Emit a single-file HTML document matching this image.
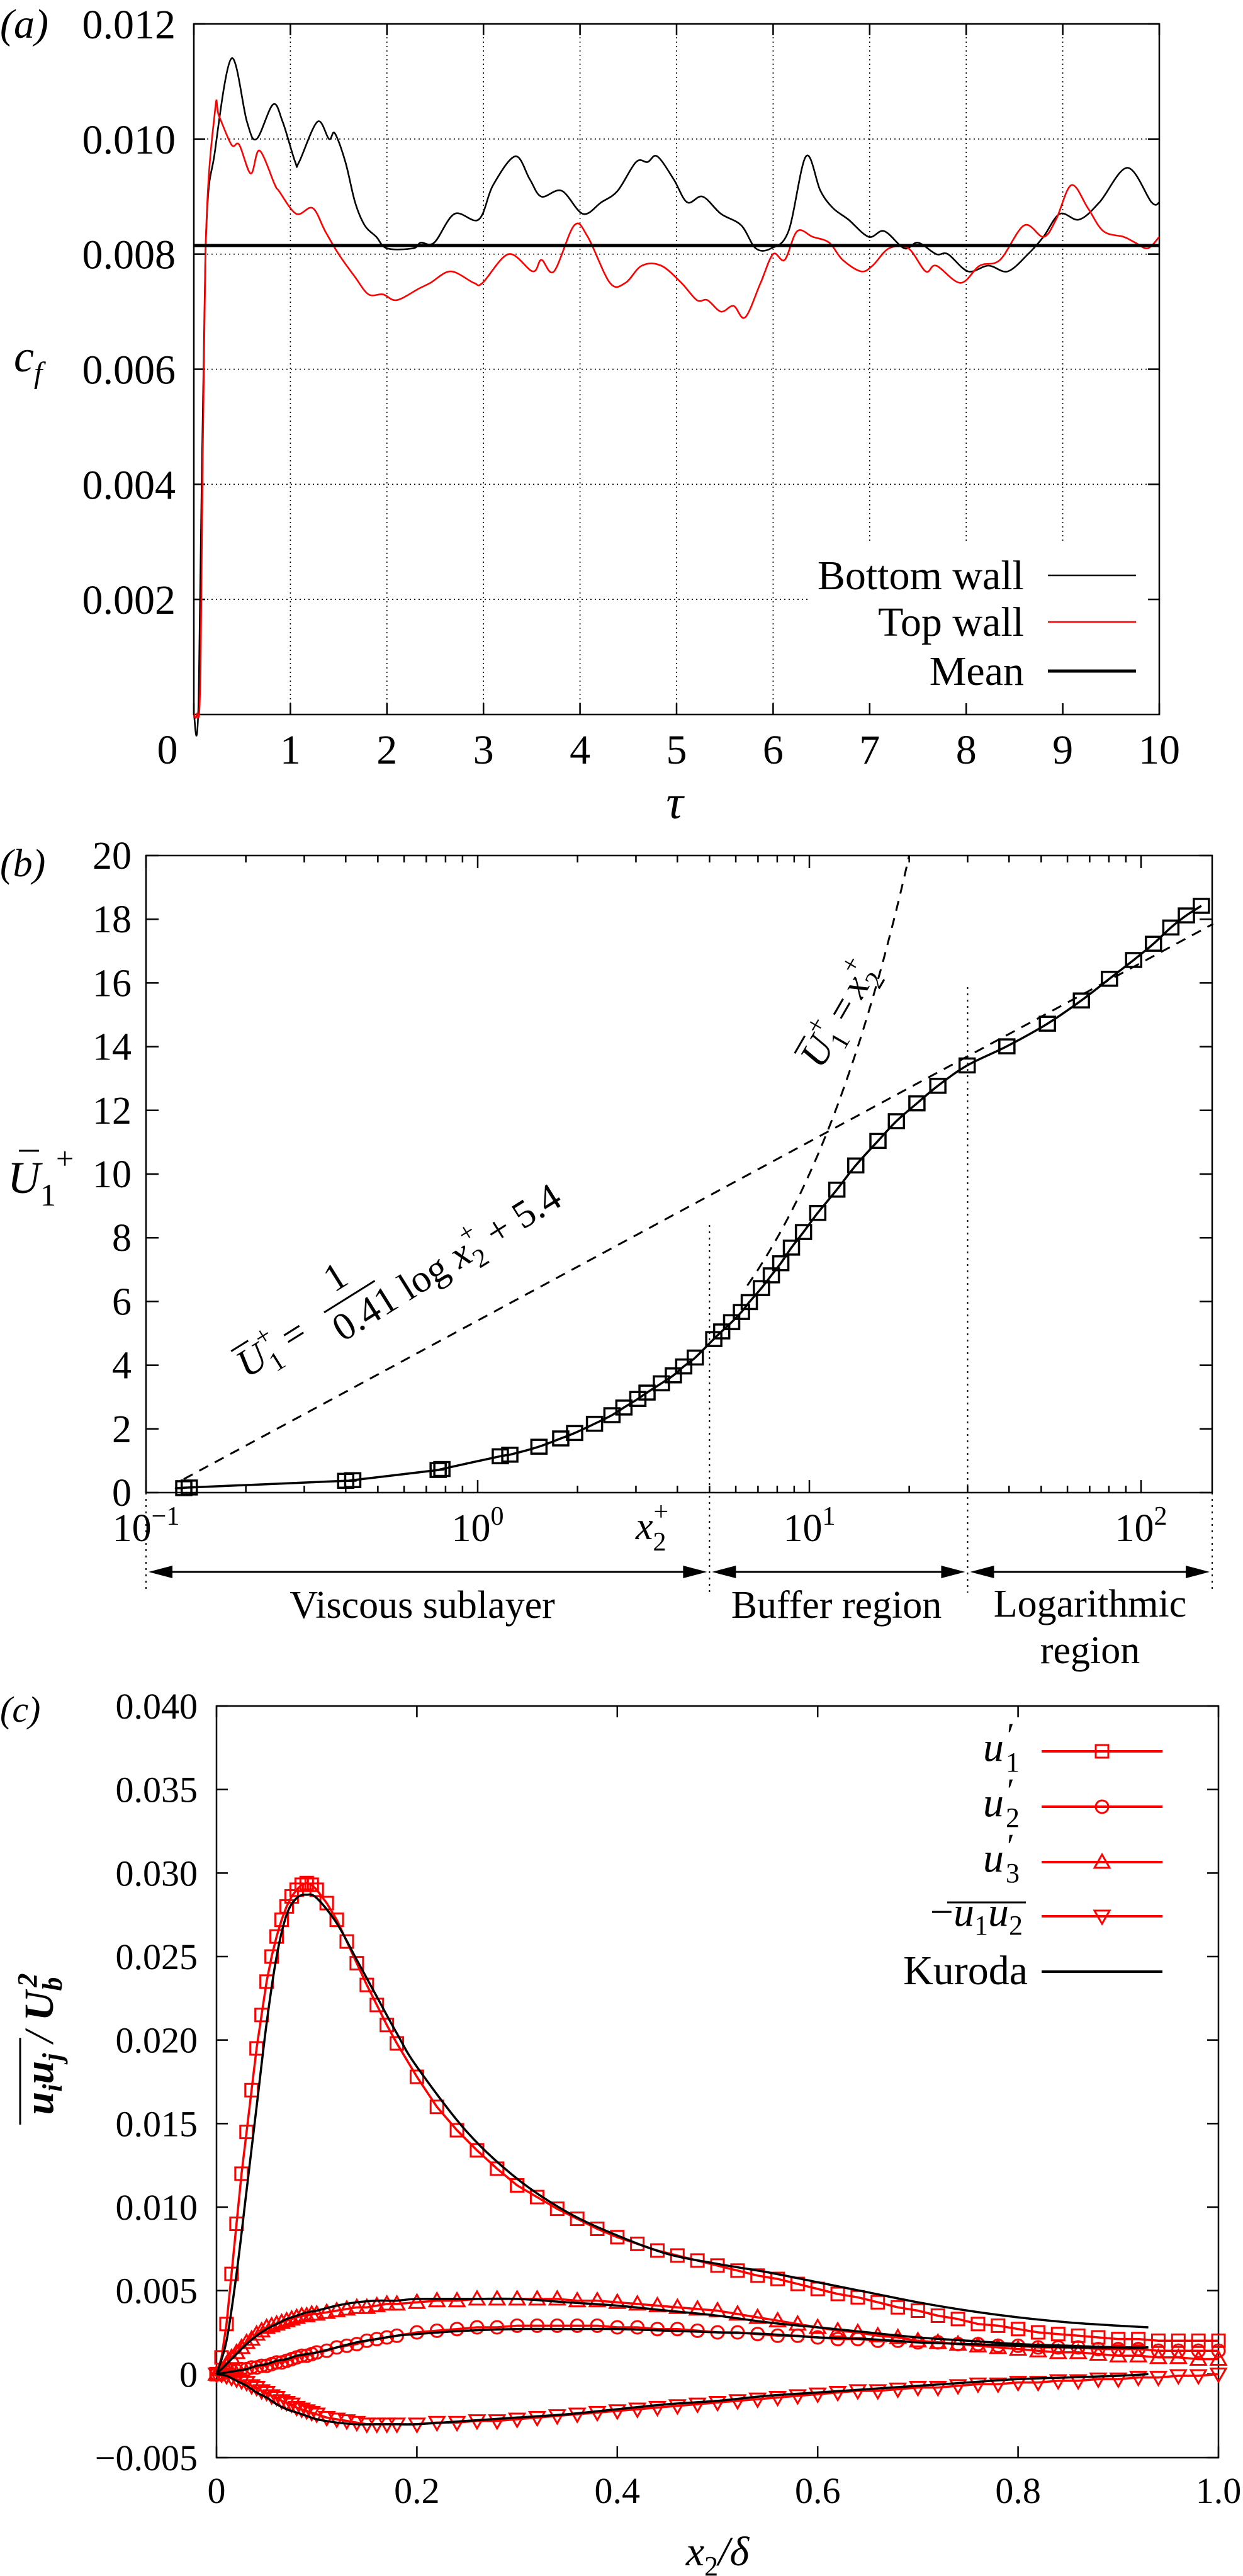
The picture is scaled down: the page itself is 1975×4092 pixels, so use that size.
<!DOCTYPE html>
<html><head><meta charset="utf-8"><style>
html,body{margin:0;padding:0;background:#fff;}
svg{display:block;}
svg text{font-family:"Liberation Serif","Times New Roman","DejaVu Serif",serif;}
</style></head><body>
<svg id="fig" xmlns="http://www.w3.org/2000/svg" width="1975" height="4092" viewBox="0 0 1975 4092" font-family="Liberation Serif, serif"></svg>
<script>
// ---------- Panel (a) data ----------
const aTauBottom=[0,0.05,0.12,0.22,0.39,0.55,0.65,0.82,0.92,1.05,1.09,1.28,1.4,1.46,1.57,1.67,1.77,1.89,2.0,2.27,2.35,2.49,2.7,2.95,3.1,3.33,3.48,3.6,3.81,4.03,4.22,4.39,4.58,4.7,4.8,4.97,5.11,5.27,5.46,5.67,5.82,5.98,6.16,6.34,6.49,6.62,6.78,6.99,7.15,7.36,7.5,7.69,7.81,8.02,8.23,8.43,8.64,8.8,8.97,9.17,9.38,9.67,9.92,10];
const aCfBottom=[0,0.0003,0.008,0.0098,0.0114,0.0103,0.0100,0.0106,0.0103,0.0096,0.0096,0.0103,0.0100,0.0101,0.0096,0.0089,0.0085,0.0083,0.0081,0.0081,0.0082,0.0082,0.0087,0.0086,0.0092,0.0097,0.0093,0.0090,0.0091,0.0087,0.0089,0.0091,0.0096,0.0096,0.0097,0.0093,0.0089,0.0090,0.0087,0.0085,0.0081,0.0081,0.0084,0.0097,0.0091,0.0088,0.0086,0.0083,0.0084,0.0081,0.0082,0.0080,0.0080,0.0077,0.0078,0.0077,0.0080,0.0083,0.0087,0.0086,0.0089,0.0095,0.0089,0.0089];
const aTauTop=[0,0.03,0.07,0.12,0.22,0.26,0.39,0.47,0.59,0.68,0.84,0.88,1.06,1.23,1.36,1.5,1.67,1.81,1.96,2.1,2.33,2.45,2.66,2.9,2.99,3.26,3.51,3.6,3.73,3.94,4.08,4.31,4.47,4.64,4.84,5.05,5.21,5.32,5.46,5.59,5.71,5.87,6.0,6.12,6.25,6.41,6.58,6.72,6.91,7.03,7.2,7.4,7.58,7.69,7.94,8.14,8.35,8.6,8.8,8.93,9.09,9.26,9.42,9.63,9.75,9.88,10];
const aCfTop=[0,0,0.0008,0.008,0.0105,0.0104,0.0099,0.0099,0.0094,0.0098,0.0092,0.0091,0.0087,0.0088,0.0084,0.0080,0.0076,0.0073,0.0073,0.0072,0.0074,0.0075,0.0077,0.0075,0.0075,0.0080,0.0077,0.0079,0.0077,0.0085,0.0083,0.0075,0.0075,0.0078,0.0078,0.0075,0.0072,0.0072,0.0070,0.0071,0.0069,0.0075,0.0080,0.0079,0.0084,0.0083,0.0082,0.0079,0.0077,0.0078,0.0081,0.0081,0.0077,0.0078,0.0075,0.0078,0.0079,0.0085,0.0083,0.0086,0.0092,0.0088,0.0084,0.0083,0.0082,0.0081,0.0083];
const aMean=[0.00815];
const aXTicks=[0,1,2,3,4,5,6,7,8,9,10];
const aYTicks=[0.002,0.004,0.006,0.008,0.010,0.012];
const aYLabels=["0.002","0.004","0.006","0.008","0.010","0.012"];

// ---------- Panel (b) data ----------
const bXplus=[0.13,0.135,0.40,0.42,0.76,0.78,1.17,1.25,1.53,1.78,1.96,2.25,2.54,2.76,3.04,3.24,3.58,3.89,4.18,4.53,5.15,5.44,5.83,6.24,6.59,7.17,7.68,8.2,8.83,9.6,10.6,12.1,13.8,16.1,18.3,21.1,24.4,29.9,39.4,52.2,66.1,80.3,95,109,123,137,152];
const bUplus=[0.14,0.16,0.37,0.39,0.71,0.74,1.14,1.19,1.44,1.70,1.87,2.16,2.43,2.67,2.94,3.14,3.43,3.68,3.96,4.24,4.82,5.06,5.35,5.67,5.98,6.42,6.82,7.20,7.69,8.18,8.78,9.51,10.27,11.04,11.66,12.22,12.77,13.41,14.01,14.72,15.45,16.13,16.72,17.23,17.74,18.12,18.42];
const bYTicks=[0,2,4,6,8,10,12,14,16,18,20];
const bXDecades=[-1,0,1,2];
const bKappa=[0.41];
const bB=[5.4];

// ---------- Panel (c) data ----------
const cX=[0,.005,.01,.015,.02,.025,.03,.035,.04,.045,
.05,.055,.06,.065,.07,.075,.08,.085,.09,.095,
.1,.11,.12,.13,.14,.15,.16,.17,.18,.2,
.22,.24,.26,.28,.3,.32,.34,.36,.38,.4,
.42,.44,.46,.48,.5,.52,.54,.56,.58,.6,
.62,.64,.66,.68,.7,.72,.74,.76,.78,.8,
.82,.84,.86,.88,.9,.92,.94,.96,.98,1];
const cU1=[0,.001,.003,.006,.009,.012,.0145,.017,.0195,.0215,
.0235,.025,.0262,.0272,.028,.0286,.029,.0293,.0294,.0293,
.029,.0282,.0272,.0259,.0246,.0233,.0221,.0209,.0198,.0178,
.016,.0146,.0134,.0123,.0113,.0106,.0099,.0093,.0087,.0082,
.0078,.0074,.0071,.0068,.0065,.0062,.0059,.0057,.0054,.0051,
.0048,.0046,.0043,.0040,.0038,.0035,.0033,.0030,.0029,.0027,
.0025,.0024,.0023,.0022,.0021,.0021,.0020,.0020,.0020,.0020];
const cU2=[0,.0001,.0001,.0002,.0002,.0003,.0003,.0004,.0004,.0005,
.0005,.0006,.0007,.0007,.0008,.0009,.0010,.0011,.0011,.0012,
.0013,.0014,.0016,.0017,.0018,.0020,.0021,.0022,.0023,.0025,
.0026,.0027,.0028,.0028,.0029,.0029,.0029,.0029,.0029,.0028,
.0028,.0027,.0027,.0026,.0025,.0025,.0024,.0023,.0023,.0022,
.0021,.0021,.0020,.0020,.0019,.0019,.0018,.0018,.0017,.0017,
.0016,.0016,.0016,.0015,.0015,.0015,.0014,.0014,.0014,.0014];
const cU3=[0,.0003,.0006,.001,.0013,.0016,.0019,.0021,.0024,.0026,
.0028,.0029,.003,.0031,.0032,.0033,.0034,.0035,.0035,.0036,
.0036,.0037,.0038,.0039,.0040,.0040,.0041,.0042,.0042,.0043,
.0044,.0044,.0045,.0045,.0045,.0045,.0045,.0044,.0044,.0043,
.0042,.0041,.0040,.0039,.0038,.0036,.0034,.0032,.0030,.0028,
.0026,.0025,.0023,.0022,.0020,.0019,.0018,.0017,.0016,.0015,
.0014,.0013,.0013,.0012,.0011,.0011,.0010,.0010,.0009,.0009];
const cUV=[0,0,-.0001,-.0002,-.0003,-.0004,-.0005,-.0007,-.0008,-.0010,
-.0011,-.0013,-.0014,-.0016,-.0017,-.0018,-.0020,-.0021,-.0022,-.0023,
-.0024,-.0026,-.0027,-.0028,-.0029,-.0030,-.0030,-.0030,-.0030,-.0030,
-.0029,-.0029,-.0028,-.0028,-.0027,-.0026,-.0025,-.0024,-.0023,-.0022,
-.0021,-.0020,-.0019,-.0018,-.0017,-.0016,-.0015,-.0014,-.0013,-.0012,
-.0011,-.0010,-.0010,-.0009,-.0008,-.0008,-.0007,-.0006,-.0006,-.0005,
-.0005,-.0004,-.0004,-.0003,-.0003,-.0002,-.0002,-.0001,-.0001,0];
const kX=[0,.01,.02,.03,.04,.05,.06,.07,.08,.09,.1,.12,.14,.16,.18,.2,.25,.3,.35,.4,.45,.5,.55,.6,.65,.7,.75,.8,.85,.9,.93];
const kU1=[0,.002,.006,.011,.016,.021,.025,.0275,.0285,.0287,.0285,.027,.0248,.0226,.0204,.0184,.0145,.0117,.0097,.0083,.0072,.0066,.0061,.0055,.0049,.0043,.0038,.0034,.0031,.0029,.0028];
const kU2=[0,.0001,.0002,.0003,.0005,.0006,.0008,.0009,.0011,.0012,.0013,.0016,.0019,.0021,.0023,.0024,.0026,.0027,.0027,.0027,.0026,.0025,.0024,.0022,.0021,.0019,.0018,.0017,.0016,.0016,.0016];
const kU3=[0,.0006,.0012,.0018,.0023,.0027,.003,.0033,.0035,.0037,.0038,.0041,.0043,.0044,.0044,.0045,.0045,.0045,.0043,.0041,.0038,.0035,.0031,.0028,.0025,.0022,.002,.0018,.0017,.0016,.0016];
const kUV=[0,-.0001,-.0004,-.0007,-.0011,-.0014,-.0018,-.0021,-.0023,-.0025,-.0027,-.0029,-.003,-.003,-.003,-.003,-.0028,-.0026,-.0024,-.0021,-.0018,-.0016,-.0013,-.0011,-.0009,-.0007,-.0005,-.0003,-.0002,-.0001,0];
const cYTicks=[-0.005,0,0.005,0.010,0.015,0.020,0.025,0.030,0.035,0.040];
const cYLabels=["\u22120.005","0","0.005","0.010","0.015","0.020","0.025","0.030","0.035","0.040"];
const cXTicks=[0,0.2,0.4,0.6,0.8,1.0];
const cXLabels=["0","0.2","0.4","0.6","0.8","1.0"];

const NS="http://www.w3.org/2000/svg";
const FONT='"Liberation Serif", "Times New Roman", serif';
const svg=document.getElementById('fig');
function el(tag,attrs,parent){const e=document.createElementNS(NS,tag);for(const k in attrs)e.setAttribute(k,attrs[k]);if(tag==='text')e.setAttribute('font-family',FONT);(parent||svg).appendChild(e);return e;}
function txt(s,x,y,size,anchor,parent,italic){const t=el('text',{x:x,y:y,'font-size':size,'text-anchor':anchor||'start'},parent);if(italic)t.setAttribute('font-style','italic');t.textContent=s;return t;}
function smoothPath(pts){
  let d='M'+pts[0][0].toFixed(1)+','+pts[0][1].toFixed(1);
  for(let i=0;i<pts.length-1;i++){
    const p0=pts[Math.max(0,i-1)],p1=pts[i],p2=pts[i+1],p3=pts[Math.min(pts.length-1,i+2)];
    const c1=[p1[0]+(p2[0]-p0[0])/6,p1[1]+(p2[1]-p0[1])/6],c2=[p2[0]-(p3[0]-p1[0])/6,p2[1]-(p3[1]-p1[1])/6];
    d+=' C'+c1[0].toFixed(1)+','+c1[1].toFixed(1)+' '+c2[0].toFixed(1)+','+c2[1].toFixed(1)+' '+p2[0].toFixed(1)+','+p2[1].toFixed(1);
  }
  return d;
}

// ================= Panel (a) =================
(function(){
  const L=308,R=1842,T=38,B=1135;
  const X=v=>L+(R-L)*v/10, Y=v=>B-(B-T)*v/0.012;
  const g=el('g',{});  
  const grid=el('g',{stroke:'#000','stroke-width':1.6,'stroke-dasharray':'2,5'},g);
   
  aXTicks.forEach(t=>{if(t>0&&t<10){const ye=(t>=7)?859:B;el('line',{x1:X(t),y1:T,x2:X(t),y2:ye},grid);}});
  aYTicks.forEach(t=>{if(t<0.012){const xe=(t<=0.002)?1285:R;el('line',{x1:L,y1:Y(t),x2:xe,y2:Y(t)},grid);}});
  const frame=el('rect',{x:L,y:T,width:R-L,height:B-T,fill:'none',stroke:'#000','stroke-width':2.5},g);
   
  const ticks=el('g',{stroke:'#000','stroke-width':2.5},g);
  aXTicks.forEach(t=>{el('line',{x1:X(t),y1:B,x2:X(t),y2:B-18},ticks);el('line',{x1:X(t),y1:T,x2:X(t),y2:T+18},ticks);});
  aYTicks.forEach(t=>{el('line',{x1:L,y1:Y(t),x2:L+18,y2:Y(t)},ticks);el('line',{x1:R,y1:Y(t),x2:R-18,y2:Y(t)},ticks);});
  const xl=el('g',{},g);  
  aXTicks.forEach(t=>{txt(String(t),X(t)-(t===0?42:0),1213,66,'middle',xl);});
  const yl=el('g',{},g);  
  aYTicks.forEach((t,i)=>{txt(aYLabels[i],279,Y(t)+23,66,'end',yl);});
  const pl=txt('(a)',0,60,66,'start',g,true);  
  const yt=el('text',{x:22,y:590,'font-size':72,'font-style':'italic'},g); yt.innerHTML='c<tspan font-size="48" dy="18">f</tspan>';
   
  const xt=txt('\u03C4',1072,1300,76,'middle',g,true);  
  const bp=el('path',{d:smoothPath(aTauBottom.map((t,i)=>[X(t),Y(aCfBottom[i])])),fill:'none',stroke:'#000','stroke-width':2.6},g);
   
  const tp=el('path',{d:smoothPath(aTauTop.map((t,i)=>[X(t),Y(aCfTop[i])])),fill:'none',stroke:'#f00','stroke-width':2.6},g);
   
  const mp=el('line',{x1:L,y1:Y(aMean[0]),x2:R,y2:Y(aMean[0]),stroke:'#000','stroke-width':5},g);
   
  const lg=el('g',{},g);  
  const items=[['Bottom wall','#000',2.6,914],['Top wall','#f00',2.6,988],['Mean','#000',5,1066]];
  items.forEach(it=>{const e=el('g',{},lg);
    txt(it[0],1627,it[3]+22,66,'end',e);el('line',{x1:1665,y1:it[3],x2:1805,y2:it[3],stroke:it[1],'stroke-width':it[2]},e);});
  svg.appendChild(g);
})();

// ================= Panel (b) =================
(function(){
  const L=232,R=1926,T=1359,B=2371;
  const dec=527, x0=232;
  const X=v=>x0+dec*(Math.log10(v)+1), Y=v=>B-(B-T)*v/20;
  const g=el('g',{});  
  const frame=el('rect',{x:L,y:T,width:R-L,height:B-T,fill:'none',stroke:'#000','stroke-width':2.5},g);
   
  const ticks=el('g',{stroke:'#000','stroke-width':2.5},g);
  bYTicks.forEach(t=>{el('line',{x1:L,y1:Y(t),x2:L+20,y2:Y(t)},ticks);el('line',{x1:R,y1:Y(t),x2:R-20,y2:Y(t)},ticks);});
  bXDecades.forEach(d=>{for(let m=1;m<10;m++){const v=m*Math.pow(10,d);const x=X(v);if(x>R+1)continue;const len=m===1?20:11;
    el('line',{x1:x,y1:B,x2:x,y2:B-len},ticks);el('line',{x1:x,y1:T,x2:x,y2:T+len},ticks);}});
  const yl=el('g',{},g);  
  bYTicks.forEach(t=>txt(String(t),209,Y(t)+21,62,'end',yl));
  const xl=el('g',{},g);  
  bXDecades.forEach(d=>{const t=el('text',{x:X(Math.pow(10,d)),y:2448,'font-size':62,'text-anchor':'middle'},xl);
    t.innerHTML='10<tspan font-size="42" dy="-26">'+(d<0?'\u22121':d)+'</tspan>';});
  const pl=txt('(b)',0,1392,62,'start',g,true);  
  const yt=el('text',{x:12,y:1895,'font-size':72,'font-style':'italic'},g);
  yt.innerHTML='U<tspan font-size="50" dy="20" font-style="normal">1</tspan><tspan font-size="50" dy="-58" font-style="normal">+</tspan>';
   
  el('line',{x1:30,y1:1828,x2:62,y2:1828,stroke:'#000','stroke-width':3},g);
  const xt=el('text',{x:1010,y:2445,'font-size':62,'font-style':'italic'},g);
  xt.innerHTML='x<tspan font-size="42" dy="18" font-style="normal">2</tspan><tspan font-size="42" dx="-20" dy="-48" font-style="normal">+</tspan>';
   
  const dv=el('g',{stroke:'#000','stroke-width':2,'stroke-dasharray':'3,7'},g);
   
  el('line',{x1:X(5),y1:1946,x2:X(5),y2:2530},dv);
  el('line',{x1:X(30),y1:1568,x2:X(30),y2:2530},dv);
  el('line',{x1:L,y1:B,x2:L,y2:2530},dv);
  el('line',{x1:R,y1:B,x2:R,y2:2530},dv);
  const ar=el('g',{},g);  
  const AY=2497;
  [[L,X(5)],[X(5),X(30)],[X(30),R]].forEach(s=>{
    el('line',{x1:s[0]+20,y1:AY,x2:s[1]-20,y2:AY,stroke:'#000','stroke-width':3},ar);
    el('polygon',{points:(s[0]+4)+','+AY+' '+(s[0]+42)+','+(AY-10)+' '+(s[0]+42)+','+(AY+10),fill:'#000'},ar);
    el('polygon',{points:(s[1]-4)+','+AY+' '+(s[1]-42)+','+(AY-10)+' '+(s[1]-42)+','+(AY+10),fill:'#000'},ar);});
  let t;
  t=txt('Viscous sublayer',671,2570,62,'middle',g);  
  t=txt('Buffer region',1329,2570,62,'middle',g);  
  t=txt('Logarithmic',1732,2568,62,'middle',g);  
  t=txt('region',1732,2642,62,'middle',g);  
  const lw=[];for(let i=0;i<=40;i++){const v=0.13*Math.pow(165/0.13,i/40);lw.push([X(v),Y(Math.log(v)/bKappa[0]+bB[0])]);}
  const lp=el('path',{d:'M'+lw.map(p=>p[0].toFixed(1)+','+p[1].toFixed(1)).join(' L'),fill:'none',stroke:'#000','stroke-width':3,'stroke-dasharray':'16,12'},g);
   
  const vl=[];for(let i=0;i<=30;i++){const v=6.5*Math.pow(20/6.5,i/30);vl.push([X(v),Y(v)]);}
  const vp=el('path',{d:'M'+vl.map(p=>p[0].toFixed(1)+','+p[1].toFixed(1)).join(' L'),fill:'none',stroke:'#000','stroke-width':3,'stroke-dasharray':'16,12'},g);
   
  const a1=el('g',{transform:'translate(392,2190) rotate(-32)'},g);  
  let e=el('text',{x:0,y:0,'font-size':62,'font-style':'italic'},a1); e.innerHTML='U<tspan font-size="42" dy="16" font-style="normal">1</tspan><tspan font-size="42" dx="-20" dy="-46" font-style="normal">+</tspan><tspan dy="30" dx="14" font-style="normal">=</tspan>';
  el('line',{x1:2,y1:-50,x2:34,y2:-50,stroke:'#000','stroke-width':3},a1);
  txt('1',205,-42,62,'middle',a1);
  el('line',{x1:160,y1:-24,x2:255,y2:-24,stroke:'#000','stroke-width':3},a1);
  e=el('text',{x:160,y:32,'font-size':62},a1); e.innerHTML='0.41 log <tspan font-style="italic">x</tspan><tspan font-size="42" dy="16">2</tspan><tspan font-size="42" dx="-20" dy="-46">+</tspan><tspan dy="30"> + 5.4</tspan>';
  const a2=el('g',{transform:'translate(1305,1700) rotate(-60)'},g);  
  e=el('text',{x:0,y:0,'font-size':62,'font-style':'italic'},a2); e.innerHTML='U<tspan font-size="42" dy="16" font-style="normal">1</tspan><tspan font-size="42" dx="-20" dy="-46" font-style="normal">+</tspan><tspan dy="30" dx="14" font-style="normal">=</tspan><tspan dx="10">x</tspan><tspan font-size="42" dy="16" font-style="normal">2</tspan><tspan font-size="42" dx="-20" dy="-46" font-style="normal">+</tspan>';
  el('line',{x1:2,y1:-50,x2:34,y2:-50,stroke:'#000','stroke-width':3},a2);
  const dp=el('path',{d:smoothPath(bXplus.map((v,i)=>[X(v),Y(bUplus[i])])),fill:'none',stroke:'#000','stroke-width':3.5},g);
   
  const mk=el('g',{fill:'none',stroke:'#000','stroke-width':3.5},g);
   
  bXplus.forEach((v,i)=>{const r=el('rect',{x:X(v)-12,y:Y(bUplus[i])-11,width:24,height:22},mk);
     });
  svg.appendChild(g);
})();

// ================= Panel (c) =================
(function(){
  const L=344,R=1936,T=2710,B=3904;
  const X=v=>L+(R-L)*v, Y=v=>B-(B-T)*(v+0.005)/0.045;
  const g=el('g',{});  
  const frame=el('rect',{x:L,y:T,width:R-L,height:B-T,fill:'none',stroke:'#000','stroke-width':2.5},g);
   
  const ticks=el('g',{stroke:'#000','stroke-width':2.5},g);
  cYTicks.forEach(t=>{el('line',{x1:L,y1:Y(t),x2:L+18,y2:Y(t)},ticks);el('line',{x1:R,y1:Y(t),x2:R-18,y2:Y(t)},ticks);});
  cXTicks.forEach(t=>{el('line',{x1:X(t),y1:B,x2:X(t),y2:B-18},ticks);el('line',{x1:X(t),y1:T,x2:X(t),y2:T+18},ticks);});
  const yl=el('g',{},g);  
  cYTicks.forEach((t,i)=>txt(cYLabels[i],314,Y(t)+20,58,'end',yl));
  const xl=el('g',{},g);  
  cXTicks.forEach((t,i)=>txt(cXLabels[i],X(t),3976,58,'middle',xl));
  const pl=txt('(c)',0,2735,58,'start',g,true);  
  const xt=el('text',{x:1140,y:4075,'font-size':66,'font-style':'italic','text-anchor':'middle'},g);
  xt.innerHTML='x<tspan font-size="44" dy="16" font-style="normal">2</tspan><tspan dy="-16">/\u03B4</tspan>';
   
  const ytg=el('g',{transform:'translate(84,3247) rotate(-90)'},g);  
  const yt=el('text',{x:0,y:0,'font-size':66,'font-style':'italic','font-weight':'bold','text-anchor':'middle'},ytg);
  yt.innerHTML='u<tspan font-size="44" dy="14">i</tspan><tspan dy="-14">u</tspan><tspan font-size="44" dy="14">j</tspan><tspan dy="-14" font-weight="normal"> / </tspan>U<tspan font-size="44" dy="14">b</tspan><tspan font-size="44" dx="-16" dy="-40">2</tspan>';
  el('line',{x1:-128,y1:-52,x2:10,y2:-52,stroke:'#000','stroke-width':3},ytg);
  function marker(kind,cx,cy,parent){
    let m;
    if(kind==='sq') m=el('rect',{x:cx-10,y:cy-10,width:20,height:20},parent);
    else if(kind==='ci') m=el('circle',{cx:cx,cy:cy,r:10},parent);
    else if(kind==='up') m=el('polygon',{points:cx+','+(cy-12)+' '+(cx-12)+','+(cy+9)+' '+(cx+12)+','+(cy+9)},parent);
    else m=el('polygon',{points:cx+','+(cy+12)+' '+(cx-12)+','+(cy-9)+' '+(cx+12)+','+(cy-9)},parent);
    return m;
  }
  const series=[['u1-series',cU1,'sq'],['u2-series',cU2,'ci'],['u3-series',cU3,'up'],['uv-series',cUV,'dn']];
  series.forEach(s=>{
    const sg=el('g',{},g);  
    el('path',{d:'M'+cX.map((x,i)=>X(x).toFixed(1)+','+Y(s[1][i]).toFixed(1)).join(' L'),fill:'none',stroke:'#f00','stroke-width':3.5},sg);
    const mg=el('g',{fill:'none',stroke:'#f00','stroke-width':3},sg);
    cX.forEach((x,i)=>{const m=marker(s[2],X(x),Y(s[1][i]),mg);});
  });
  [['kuroda-u1',kU1],['kuroda-u2',kU2],['kuroda-u3',kU3],['kuroda-uv',kUV]].forEach(s=>{
    const p=el('path',{d:smoothPath(kX.map((x,i)=>[X(x),Y(s[1][i])])),fill:'none',stroke:'#000','stroke-width':3.5},g);
     });
  const lg=el('g',{},g);  
  const lab=[['u','1','sq',2782],['u','2','ci',2870],['u','3','up',2958]];
  lab.forEach(l=>{const e=el('g',{},lg);
    txt('u',1595,l[3]+15,66,'end',e,true);
    txt('\u2032',1600,l[3]-8,54,'start',e);
    txt(l[1],1598,l[3]+32,44,'start',e);
    el('line',{x1:1655,y1:l[3],x2:1847,y2:l[3],stroke:'#f00','stroke-width':4},e);
    marker(l[2],1751,l[3],el('g',{fill:'none',stroke:'#f00','stroke-width':3},e));});
  let e=el('g',{},lg);
  let t=el('text',{x:1625,y:3059,'font-size':66,'text-anchor':'end','font-style':'italic'},e);
  t.innerHTML='<tspan font-style="normal">\u2212</tspan>u<tspan font-style="normal" font-size="44" dy="14">1</tspan><tspan dy="-14">u</tspan><tspan font-style="normal" font-size="44" dy="14">2</tspan>';
  el('line',{x1:1505,y1:3022,x2:1630,y2:3022,stroke:'#000','stroke-width':3},e);
  el('line',{x1:1655,y1:3044,x2:1847,y2:3044,stroke:'#f00','stroke-width':4},e);
  marker('dn',1751,3044,el('g',{fill:'none',stroke:'#f00','stroke-width':3},e));
  e=el('g',{},lg);
  txt('Kuroda',1633,3152,66,'end',e);
  el('line',{x1:1655,y1:3132,x2:1847,y2:3132,stroke:'#000','stroke-width':4},e);
  svg.appendChild(g);
})();
</script>
</body></html>
